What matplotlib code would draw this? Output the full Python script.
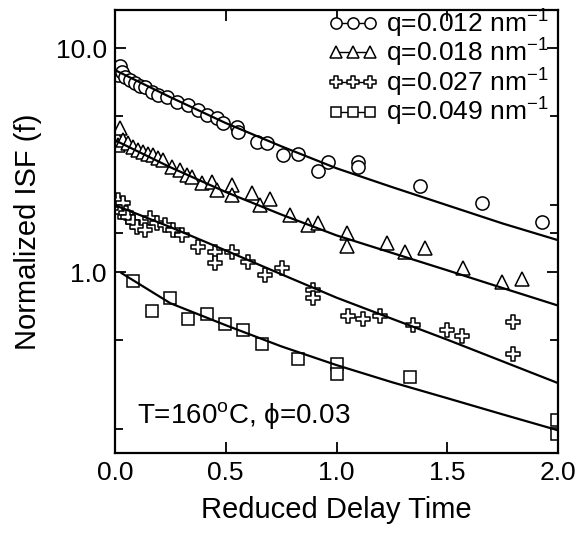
import matplotlib
matplotlib.use("Agg")
import matplotlib.pyplot as plt
from matplotlib.path import Path
from matplotlib.ticker import FixedLocator, NullFormatter

plt.rcParams['font.family'] = ['Liberation Sans', 'DejaVu Sans']
plt.rcParams['mathtext.fontset'] = 'custom'
plt.rcParams['mathtext.rm'] = 'Liberation Sans'
plt.rcParams['mathtext.it'] = 'Liberation Sans:italic'
plt.rcParams['mathtext.bf'] = 'Liberation Sans:bold'

# q = 0.012 nm^-1 (circles)
t_012 = [0.005, 0.012, 0.023, 0.032, 0.045, 0.068, 0.090, 0.113, 0.135, 0.167, 0.194, 0.235,
         0.280, 0.330, 0.375, 0.415, 0.460, 0.488, 0.551, 0.555, 0.641, 0.686, 0.758,
         0.826, 0.916, 0.962, 1.097, 1.097, 1.377, 1.657, 1.928]
f_012 = [8.0, 7.6, 8.31, 7.81, 7.42, 7.19, 6.98, 6.77, 6.70, 6.36, 6.17, 6.04,
         5.74, 5.57, 5.29, 5.02, 4.87, 4.62, 4.44, 4.22, 3.80, 3.77, 3.33,
         3.36, 2.82, 3.10, 3.10, 2.94, 2.42, 2.03, 1.67]

# q = 0.018 nm^-1 (triangles)
t_018 = [0.009, 0.014, 0.023, 0.036, 0.059, 0.081, 0.104, 0.126, 0.149, 0.172, 0.194, 0.217,
         0.257, 0.293, 0.325, 0.348, 0.393, 0.438, 0.460, 0.528, 0.528, 0.619, 0.655,
         0.700, 0.790, 0.871, 0.916, 1.047, 1.047, 1.228, 1.309, 1.400, 1.571, 1.747, 1.837]
f_018 = [4.01, 3.69, 4.39, 3.88, 3.77, 3.61, 3.50, 3.43, 3.36, 3.33, 3.23, 3.16,
         2.94, 2.85, 2.71, 2.66, 2.50, 2.52, 2.32, 2.45, 2.21, 2.25, 1.99,
         2.12, 1.80, 1.62, 1.65, 1.49, 1.31, 1.35, 1.23, 1.28, 1.04, 0.90, 0.93]

# q = 0.027 nm^-1 (crosses)
t_027 = [0.014, 0.036, 0.023, 0.050, 0.059, 0.081, 0.099, 0.135, 0.158, 0.190, 0.226, 0.262,
         0.302, 0.375, 0.451, 0.451, 0.528, 0.600, 0.677, 0.754, 0.894, 0.894,
         1.052, 1.120, 1.196, 1.345, 1.499, 1.567, 1.797, 1.797]
f_027 = [2.10, 2.03, 1.85, 1.83, 1.76, 1.67, 1.59, 1.54, 1.74, 1.65, 1.62, 1.54,
         1.46, 1.29, 1.23, 1.10, 1.23, 1.11, 0.97, 1.04, 0.83, 0.77,
         0.64, 0.62, 0.64, 0.58, 0.55, 0.52, 0.60, 0.43]

# q = 0.049 nm^-1 (squares)
t_049 = [0.081, 0.167, 0.248, 0.330, 0.415, 0.497, 0.578, 0.664, 0.826, 1.002, 1.002,
         1.332, 1.996, 1.996]
f_049 = [0.91, 0.67, 0.77, 0.62, 0.65, 0.59, 0.55, 0.48, 0.41, 0.39, 0.35,
         0.34, 0.22, 0.19]

# fitted curves
fit_t = [0.0, 0.25, 0.5, 0.75, 1.0, 1.25, 1.5, 1.75, 2.0]
fit_012 = [7.98, 6.04, 4.63, 3.65, 2.91, 2.40, 1.99, 1.65, 1.39]
fit_018 = [3.88, 2.94, 2.28, 1.81, 1.46, 1.22, 1.02, 0.85, 0.71]
fit_027 = [1.99, 1.59, 1.25, 0.98, 0.77, 0.62, 0.50, 0.40, 0.32]
fit_t_049 = [0.03, 0.25, 0.5, 0.75, 1.0, 1.25, 1.5, 1.75, 2.0]
fit_049 = [0.99, 0.727, 0.580, 0.467, 0.385, 0.323, 0.274, 0.232, 0.197]

labels = ["q=0.012 nm$^{-1}$", "q=0.018 nm$^{-1}$", "q=0.027 nm$^{-1}$", "q=0.049 nm$^{-1}$"]

# outlined plus marker with slim arms
a = 0.15
plus = Path([(-a, 0.5), (a, 0.5), (a, a), (0.5, a), (0.5, -a), (a, -a), (a, -0.5),
             (-a, -0.5), (-a, -a), (-0.5, -a), (-0.5, a), (-a, a), (-a, 0.5)], closed=True)

fig = plt.figure(figsize=(5.78, 5.37), dpi=100)
ax = fig.add_axes([115/578, 1-453/537, 443/578, 443/537])

mk = dict(linestyle='-', color='black', markerfacecolor='white', markeredgecolor='black',
          markeredgewidth=1.1, linewidth=1.0)
series = [(t_012, f_012, 'o', 9.5), (t_018, f_018, '^', 10.5),
          (t_027, f_027, plus, 10.5), (t_049, f_049, 's', 8)]
handles = []
for (t, f, m, ms), lab in zip(series, labels):
    ax.plot(t, f, marker=m, color='black', markerfacecolor='white', markeredgecolor='black',
            markeredgewidth=1.1, markersize=ms, linestyle='none')
    h, = ax.plot([], [], marker=m, markersize=ms * 0.85, label=lab, **mk)
    handles.append(h)

for t, f in [(fit_t, fit_012), (fit_t, fit_018), (fit_t, fit_027), (fit_t_049, fit_049)]:
    ax.plot(t, f, color='black', linewidth=1.6)

ax.set_yscale('log')
ax.set_xlim(0, 2.0)
ax.set_ylim(0.156, 14.8)
ax.set_xticks([0.0, 0.5, 1.0, 1.5, 2.0])
ax.set_xticklabels(["0.0", "0.5", "1.0", "1.5", "2.0"])
ax.yaxis.set_major_locator(FixedLocator([1.0, 10.0]))
ax.set_yticklabels(["1.0", "10.0"])
ax.yaxis.set_minor_locator(FixedLocator([0.2, 0.5, 1.5, 2.0, 5.0]))
ax.yaxis.set_minor_formatter(NullFormatter())

ax.tick_params(which='both', direction='in', top=True, right=True, width=1.3,
               labelsize=19, colors='black')
ax.tick_params(which='major', length=8, pad=6)
ax.tick_params(which='minor', length=6)
for s in ax.spines.values():
    s.set_linewidth(1.6)

ax.set_xlabel("Reduced Delay Time", fontsize=21, labelpad=8)
ax.set_ylabel("Normalized ISF (f)", fontsize=21, labelpad=10)

ax.text(0.05, 0.05, "T=160$^{\\rm o}$C, \u03d5=0.03", transform=ax.transAxes,
        fontsize=20, ha='left', va='bottom')

ax.legend(handles=handles, loc='upper right', bbox_to_anchor=(0.984, 1.012),
          frameon=False, fontsize=19, numpoints=3, handlelength=1.9, handletextpad=0.3,
          labelspacing=-0.1, borderaxespad=0.0, borderpad=0.1)

fig.savefig("out.png", dpi=100)
